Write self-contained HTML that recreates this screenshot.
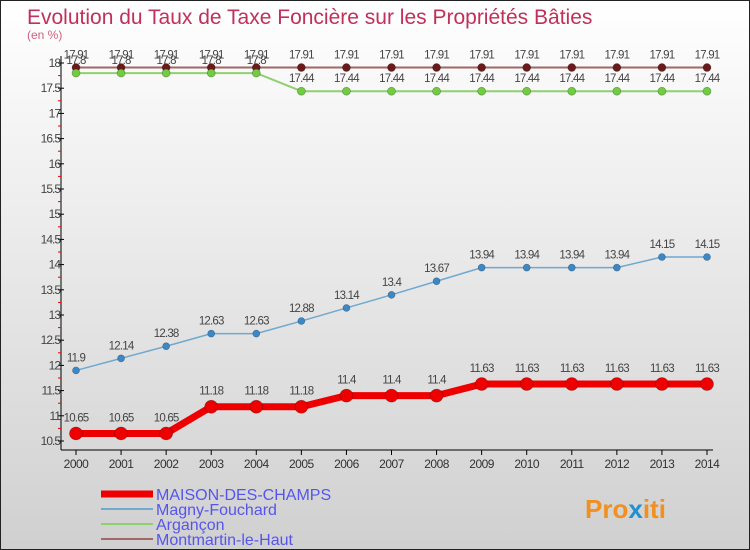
<!DOCTYPE html>
<html><head><meta charset="utf-8"><style>
body{margin:0}
#c{width:750px;height:550px;position:relative;box-sizing:border-box;border:1px solid #222;background:linear-gradient(#fff,#d0d0d0);font-family:"Liberation Sans",sans-serif;overflow:hidden}
svg text{font-family:"Liberation Sans",sans-serif}
</style></head><body>
<div id="c">
<svg id="s" width="750" height="550">
<text x="26" y="23" font-size="21" fill="#c0305a">Evolution du Taux de Taxe Foncière sur les Propriétés Bâties</text>
<text x="26" y="38" font-size="12" fill="#d06080">(en %)</text>
<g id="axes"></g><g id="series"></g>
<g>
<line x1="100" y1="493" x2="152" y2="493" stroke="#ee0000" stroke-width="7"/>
<text x="155" y="499" font-size="16" fill="#5555ee">MAISON-DES-CHAMPS</text>
<line x1="100" y1="508" x2="152" y2="508" stroke="#70a8d0" stroke-width="2"/>
<text x="155" y="514" font-size="16" fill="#5555ee">Magny-Fouchard</text>
<line x1="100" y1="523" x2="152" y2="523" stroke="#90d070" stroke-width="2"/>
<text x="155" y="529" font-size="16" fill="#5555ee">Argançon</text>
<line x1="100" y1="538" x2="152" y2="538" stroke="#a06868" stroke-width="2"/>
<text x="155" y="544" font-size="16" fill="#5555ee">Montmartin-le-Haut</text>
</g>
<text x="584" y="517" font-size="26" font-weight="bold" fill="#f09020">Pro<tspan fill="#2090d0">x</tspan>iti</text>
</svg></div>
<script>
const years=[2000,2001,2002,2003,2004,2005,2006,2007,2008,2009,2010,2011,2012,2013,2014];
const yTicks=[10.5,11,11.5,12,12.5,13,13.5,14,14.5,15,15.5,16,16.5,17,17.5,18];
const maison=[10.65,10.65,10.65,11.18,11.18,11.18,11.4,11.4,11.4,11.63,11.63,11.63,11.63,11.63,11.63];
const magny=[11.9,12.14,12.38,12.63,12.63,12.88,13.14,13.4,13.67,13.94,13.94,13.94,13.94,14.15,14.15];
const argancon=[17.8,17.8,17.8,17.8,17.8,17.44,17.44,17.44,17.44,17.44,17.44,17.44,17.44,17.44,17.44];
const montmartin=[17.91,17.91,17.91,17.91,17.91,17.91,17.91,17.91,17.91,17.91,17.91,17.91,17.91,17.91,17.91];
const NS="http://www.w3.org/2000/svg";
const X=i=>75+i*(706-75)/(years.length-1);
const Y=v=>440-(v-10.5)*(378/7.5);
function mk(t,a,p){const e=document.createElementNS(NS,t);for(const k in a)e.setAttribute(k,a[k]);p.appendChild(e);return e;}
const ax=document.getElementById('axes'),sg=document.getElementById('series');
let e=mk('line',{x1:60,y1:55,x2:60,y2:449,stroke:'#000'},ax);


e=mk('line',{x1:60,y1:449,x2:712,y2:449,stroke:'#000'},ax);


yTicks.forEach(v=>{
 mk('line',{x1:57,x2:63,y1:Y(v),y2:Y(v),stroke:'#000'},ax);
 if(v<18)mk('line',{x1:57,x2:60,y1:Y(v+0.25),y2:Y(v+0.25),stroke:'#e00'},ax);
 const t=mk('text',{x:59,y:Y(v)+4,'font-size':12,fill:'#444','text-anchor':'end','letter-spacing':'-1'},ax);
 t.textContent=String(v);
 
 
});
years.forEach((y,i)=>{
 mk('line',{x1:X(i),x2:X(i),y1:449,y2:454,stroke:'#000'},ax);
 const t=mk('text',{x:X(i),y:467,'font-size':12,fill:'#333','text-anchor':'middle','letter-spacing':'-0.5'},ax);
 t.textContent=y;
 
 
});
function series(d,name,col,dot,w,r,lblOff){
 const g=mk('g',{},sg);
 
 
 const p=mk('polyline',{points:d.map((v,i)=>X(i)+','+Y(v)).join(' '),fill:'none',stroke:col,'stroke-width':w,'stroke-linejoin':'round'},g);
 
 
 d.forEach((v,i)=>{
  const c=mk('circle',{cx:X(i),cy:Y(v),r:r,fill:dot,stroke:'rgba(0,0,0,0.3)','stroke-width':0.7},g);
  
  
  const t=mk('text',{x:X(i),y:Y(v)+lblOff,'font-size':11.5,fill:'#444','text-anchor':'middle','letter-spacing':'-0.8'},g);
  t.textContent=String(v);
  
  
 });
}
series(montmartin,'montmartin','#a06868','#6a1a1a',2,4,-9);
series(argancon,'argancon','#90d070','#70cc40',2,4,-9);
series(magny,'magny','#70a8d0','#3a88c8',1.5,3.5,-9);
series(maison,'maison','#ee0000','#ee0000',7,6.5,-12);
</script>
</body></html>
